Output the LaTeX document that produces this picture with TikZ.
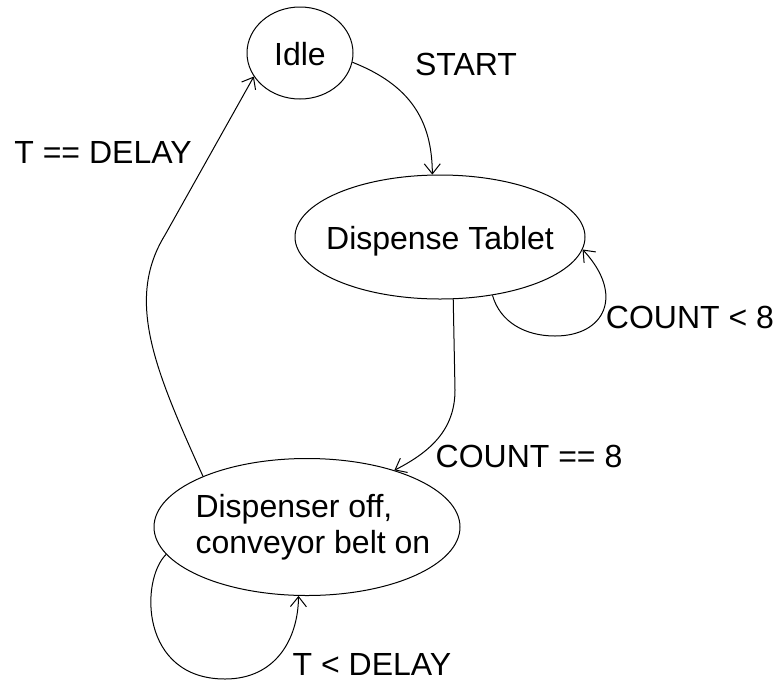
\documentclass[tikz,border=0pt]{standalone}
\usepackage{fontspec}
\setmainfont{Liberation Sans}
\usetikzlibrary{shapes.geometric,arrows.meta}
\begin{document}
\begin{tikzpicture}[x=1pt,y=-1pt,line width=1pt,
  state/.style={draw,ellipse,inner sep=0pt},
  lbl/.style={inner sep=0pt,anchor=base,font=\fontsize{32}{36}\selectfont},
  trans/.style={-{Straight Barb[length=10pt,width=16pt]}}]
\useasboundingbox (0,0) rectangle (779,681);
% states
\node[state,minimum width=106pt,minimum height=92pt] (idle) at (300,53) {};
\node[state,minimum width=290pt,minimum height=124pt] (disp) at (440,237) {};
\node[state,minimum width=306pt,minimum height=137pt] (off) at (307,527) {};
% state texts
\node[lbl] (tidle) at (300,65) {Idle};
\node[lbl] (tdisp) at (440,249) {Dispense Tablet};
\node[lbl,anchor=base west] (toffa) at (195,517) {Dispenser off,};
\node[lbl,anchor=base west] (toffb) at (195,553) {conveyor belt on};
% transitions
\draw[trans] (idle.-10) .. controls (410,85) and (432,120) .. (disp.97);
\draw[trans] (disp.-48) .. controls (500,322) and (525,336) .. (555,336)
  .. controls (605,336) and (625,295) .. (disp.-5);
\draw[trans] (disp.-78) -- (455,390) .. controls (455,430) and (430,452) .. (off.33);
\draw[trans] (off.191) .. controls (140,580) and (140,679) .. (225,679)
  .. controls (275,679) and (298,640) .. (off.-97);
\draw[trans] (off.154) .. controls (155,370) and (125,300) .. (165,235) -- (idle.207);
% transition labels
\node[lbl] (lstart) at (466,75) {START};
\node[lbl] (lcl8) at (690,328) {COUNT < 8};
\node[lbl] (lceq8) at (529,467) {COUNT == 8};
\node[lbl] (ltdel) at (372,675) {T < DELAY};
\node[lbl] (lteq) at (103,163) {T == DELAY};
\end{tikzpicture}
\end{document}
